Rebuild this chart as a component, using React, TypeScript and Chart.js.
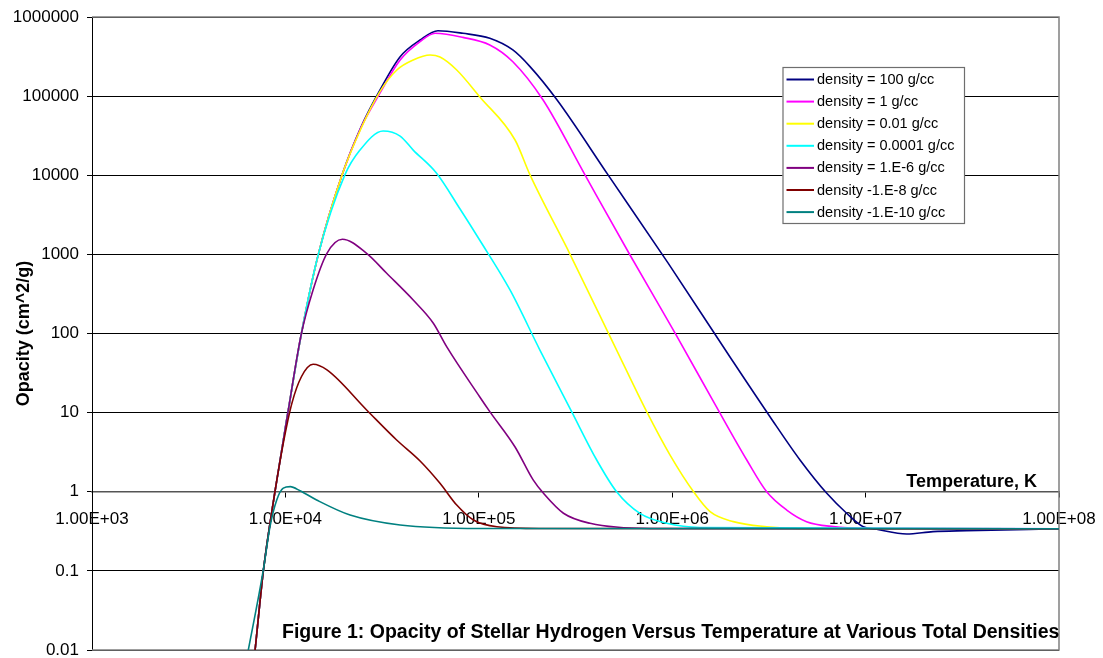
import React, { useEffect, useRef } from 'react';
import { Chart, registerables } from 'chart.js';

Chart.register(...registerables);

const FONT = '"Liberation Sans", Arial, Helvetica, sans-serif';

// Axis ticks
const xTickValues = [1e3, 1e4, 1e5, 1e6, 1e7, 1e8];
const xTickLabels = ['1.00E+03', '1.00E+04', '1.00E+05', '1.00E+06', '1.00E+07', '1.00E+08'];
const yTickValues = [0.01, 0.1, 1, 10, 100, 1000, 10000, 100000, 1000000];
const yTickLabels = ['0.01', '0.1', '1', '10', '100', '1000', '10000', '100000', '1000000'];

// Series: [temperature K, opacity cm^2/g]
const density100: [number, number][] = [
  [6600, 0.003], [6970, 0.01], [7690, 0.1], [8830, 1], [10300, 10], [12100, 100], [14800, 1000],
  [19600, 10000], [24600, 40700], [30800, 119000], [39200, 315000], [49700, 512000], [61500, 671000],
  [82800, 622000], [114000, 538000], [150000, 383000], [184000, 236000], [254000, 89300],
  [466000, 10100], [951000, 780], [1.99e6, 50.5], [3.21e6, 8.81], [4.58e6, 2.52], [6.3e6, 0.955],
  [7.98e6, 0.535], [9.73e6, 0.361], [1.14e7, 0.335], [1.63e7, 0.292], [2.23e7, 0.313],
  [3.33e7, 0.322], [1e8, 0.34],
];
const density1: [number, number][] = [
  [6600, 0.003], [6970, 0.01], [7690, 0.1], [8830, 1], [10300, 10], [12100, 100], [14800, 1000],
  [19600, 10000], [24600, 40000], [30800, 109000], [39200, 286000], [49700, 488000], [59400, 622000],
  [82800, 553000], [114000, 443000], [150000, 272000], [215000, 89300], [354000, 10100],
  [605000, 982], [1.035e6, 101], [1.66e6, 12.9], [2.43e6, 2.52], [3.08e6, 1.0], [3.91e6, 0.587],
  [4.95e6, 0.419], [6.81e6, 0.362], [9.73e6, 0.345], [1e8, 0.34],
];
const density001: [number, number][] = [
  [6600, 0.003], [6970, 0.01], [7690, 0.1], [8830, 1], [10300, 10], [12100, 100], [14800, 1000],
  [19600, 10000], [24600, 39000], [30800, 114000], [37700, 214000], [45800, 286000], [56000, 331000],
  [63000, 312000], [76900, 214000], [101000, 98400], [154000, 27900], [184000, 10100],
  [296000, 1010], [516000, 61.8], [738000, 10.3], [975000, 2.91], [1.29e6, 1.0], [1.57e6, 0.56],
  [2.07e6, 0.419], [3.08e6, 0.361], [4.58e6, 0.343], [1e8, 0.34],
];
const density00001: [number, number][] = [
  [6600, 0.003], [6970, 0.01], [7690, 0.1], [8830, 1], [10300, 10], [12100, 100], [14800, 1000],
  [20300, 10100], [24300, 20800], [32000, 36200], [39200, 31300], [45800, 20800], [60500, 10600],
  [80000, 3740], [101000, 1520], [145000, 355], [207000, 61.8], [302000, 10.3], [407000, 2.52],
  [516000, 1.0], [681000, 0.533], [938000, 0.399], [1.39e6, 0.353], [1e8, 0.34],
];
const density1em6: [number, number][] = [
  [6600, 0.003], [6970, 0.01], [7690, 0.1], [8830, 1], [10300, 10], [12100, 100], [13900, 355],
  [16400, 1030], [19700, 1550], [26300, 1030], [33400, 577], [45800, 265], [58200, 135],
  [68200, 68.1], [101000, 15.9], [114000, 10.3], [154000, 3.68], [191000, 1.41], [216000, 0.955],
  [274000, 0.535], [376000, 0.399], [767000, 0.343], [1e8, 0.34],
];
const density1em8: [number, number][] = [
  [6600, 0.003], [6970, 0.01], [7690, 0.1], [8830, 1], [9750, 4.09], [10800, 13.1], [12100, 28.4],
  [13900, 40.8], [16400, 34.6], [26300, 10.8], [37600, 4.51], [49700, 2.45], [63000, 1.28],
  [76900, 0.679], [93800, 0.44], [124000, 0.361], [207000, 0.343], [1e8, 0.34],
];
const density1em10: [number, number][] = [
  [5870, 0.00316], [6430, 0.01], [7690, 0.103], [8320, 0.361], [9020, 0.787], [9750, 1.11],
  [10600, 1.16], [11900, 1.03], [14500, 0.787], [21600, 0.508], [39200, 0.38], [101000, 0.343],
  [1e8, 0.34],
];

const seriesData = [density100, density1, density001, density00001, density1em6, density1em8, density1em10];
const seriesLabels = [
  'density = 100 g/cc',
  'density = 1 g/cc',
  'density = 0.01 g/cc',
  'density = 0.0001 g/cc',
  'density = 1.E-6 g/cc',
  'density -1.E-8 g/cc',
  'density -1.E-10 g/cc',
];
const seriesColors = ['#000080', '#FF00FF', '#FFFF00', '#00FFFF', '#800080', '#800000', '#008080'];

const xTitle = 'Temperature, K';
const yTitle = 'Opacity (cm^2/g)';
const caption = 'Figure 1: Opacity of Stellar Hydrogen Versus Temperature at Various Total Densities';

const overlayPlugin = {
  id: 'overlay',
  beforeDatasetsDraw(chart: any) {
    const { ctx, chartArea: a } = chart;
    ctx.save();
    ctx.strokeStyle = '#808080';
    ctx.lineWidth = 1.5;
    ctx.beginPath();
    ctx.moveTo(a.left, a.top);
    ctx.lineTo(a.right, a.top);
    ctx.lineTo(a.right, a.bottom);
    ctx.lineTo(a.left, a.bottom);
    ctx.stroke();
    ctx.restore();
  },
  afterDraw(chart: any) {
    const { ctx, chartArea: a, scales } = chart;
    ctx.save();
    // x axis title above the axis line at y = 1
    const y1 = scales.y.getPixelForValue(1);
    ctx.fillStyle = '#000';
    ctx.font = `bold 18px ${FONT}`;
    ctx.textAlign = 'right';
    ctx.textBaseline = 'alphabetic';
    ctx.fillText(xTitle, a.right - 22, y1 - 5);

    // caption
    ctx.font = `bold 19.5px ${FONT}`;
    ctx.textAlign = 'left';
    ctx.fillText(caption, a.left + 190, a.bottom - 12);

    // legend
    const bx = a.right - 276.5;
    const by = a.top + 50;
    const bw = 181.5;
    const bh = 156;
    ctx.fillStyle = '#fff';
    ctx.fillRect(bx, by, bw, bh);
    ctx.strokeStyle = '#6e6e6e';
    ctx.lineWidth = 1.2;
    ctx.strokeRect(bx + 0.5, by + 0.5, bw, bh);
    ctx.font = `14.5px ${FONT}`;
    ctx.textBaseline = 'middle';
    ctx.textAlign = 'left';
    seriesLabels.forEach((lab, i) => {
      const ry = by + 12.5 + i * 22.1;
      ctx.strokeStyle = seriesColors[i];
      ctx.lineWidth = 2;
      ctx.beginPath();
      ctx.moveTo(bx + 4, ry);
      ctx.lineTo(bx + 31.5, ry);
      ctx.stroke();
      ctx.fillStyle = '#000';
      ctx.fillText(lab, bx + 34.5, ry + 0.5);
    });
    ctx.restore();
  },
};

export default function App() {
  const ref = useRef<HTMLCanvasElement>(null);
  useEffect(() => {
    if (!ref.current) return;
    const datasets = seriesData.map((pts, i) => ({
      label: seriesLabels[i],
      data: pts.map(([x, y]) => ({ x, y })),
      borderColor: seriesColors[i],
      backgroundColor: seriesColors[i],
      borderWidth: 1.6,
      pointRadius: 0,
      fill: false,
      cubicInterpolationMode: 'monotone' as const,
      order: seriesData.length - i,
    }));
    const chart = new Chart(ref.current, {
      type: 'line',
      data: { datasets },
      plugins: [overlayPlugin],
      options: {
        animation: false,
        responsive: true,
        maintainAspectRatio: false,
        events: [],
        parsing: false as any,
        layout: { padding: { left: 0, right: 44, top: 17, bottom: 8 } },
        plugins: {
          legend: { display: false },
          title: { display: false },
          tooltip: { enabled: false },
        },
        scales: {
          x: {
            type: 'logarithmic',
            min: 1e3,
            max: 1e8,
            position: { y: 1 } as any,
            afterBuildTicks: (s: any) => {
              s.ticks = xTickValues.map((v) => ({ value: v }));
            },
            afterFit: (s: any) => {
              s.paddingLeft = 0;
              s.paddingRight = 0;
            },
            ticks: {
              autoSkip: false,
              maxRotation: 0,
              minRotation: 0,
              padding: 12,
              color: '#000',
              font: { family: FONT, size: 17 },
              callback: (v: any) => xTickLabels[xTickValues.indexOf(Number(v))] ?? '',
            },
            grid: { drawOnChartArea: false, drawTicks: true, tickLength: 5, color: '#000', lineWidth: 1 },
            border: { display: true, color: '#555', width: 1.5 },
          },
          y: {
            type: 'logarithmic',
            min: 0.01,
            max: 1e6,
            position: 'left',
            afterBuildTicks: (s: any) => {
              s.ticks = yTickValues.map((v) => ({ value: v }));
            },
            afterFit: (s: any) => {
              s.width = 92;
              s.paddingTop = 0;
              s.paddingBottom = 0;
            },
            ticks: {
              autoSkip: false,
              padding: 8,
              color: '#000',
              font: { family: FONT, size: 17 },
              callback: (v: any) => yTickLabels[yTickValues.indexOf(Number(v))] ?? '',
            },
            grid: { color: '#000', lineWidth: 1, drawTicks: true, tickLength: 5 },
            border: { display: true, color: '#000', width: 1 },
            title: {
              display: true,
              text: yTitle,
              color: '#000',
              font: { family: FONT, size: 18, weight: 'bold' },
              padding: { top: 13, bottom: 0 },
            },
          },
        },
      },
    } as any);
    return () => chart.destroy();
  }, []);
  return (
    <div style={{ position: 'fixed', left: 0, top: 0, width: 1103, height: 658, background: '#fff' }}>
      <canvas ref={ref} />
    </div>
  );
}
